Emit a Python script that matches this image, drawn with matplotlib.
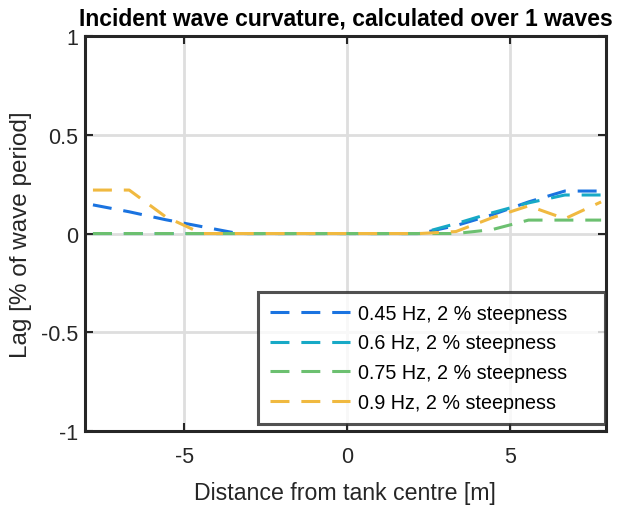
import matplotlib
matplotlib.use('Agg')
import matplotlib.pyplot as plt
import numpy as np

plt.rcParams['font.family'] = ['Liberation Sans', 'DejaVu Sans']
plt.rcParams['axes.unicode_minus'] = False

# sensor positions along the tank [m]
x = np.linspace(-7.8, 7.8, 15)

lag_045 = [0.145, 0.11, 0.07, 0.035, 0.0, 0.0, 0.0, 0.0, 0.0, 0.0, 0.04, 0.095, 0.16, 0.215, 0.215]
lag_06 = [0.0, 0.0, 0.0, 0.0, 0.0, 0.0, 0.0, 0.0, 0.0, 0.0, 0.05, 0.105, 0.155, 0.195, 0.195]
lag_075 = [0.0, 0.0, 0.0, 0.0, 0.0, 0.0, 0.0, 0.0, 0.0, 0.0, 0.0, 0.02, 0.068, 0.068, 0.068]
lag_09 = [0.22, 0.22, 0.085, 0.0, 0.0, 0.0, 0.0, 0.0, 0.0, 0.0, 0.01, 0.08, 0.14, 0.075, 0.16]

series = [lag_045, lag_06, lag_075, lag_09]
labels = ["0.45 Hz, 2 % steepness", "0.6 Hz, 2 % steepness",
          "0.75 Hz, 2 % steepness", "0.9 Hz, 2 % steepness"]
colors = ['#1a73e0', '#17a9c6', '#6cc070', '#f0b940']

fig = plt.figure(figsize=(6.19, 5.06), dpi=100)
ax = fig.add_axes([0.137, 0.146, 0.842, 0.781])

for y, lab, c in zip(series, labels, colors):
    ax.plot(x, y, color=c, lw=2.2, dashes=(6.2, 3.9), label=lab)

ax.set_xlim(-8.05, 7.95)
ax.set_ylim(-1, 1)
ax.set_xticks([-5, 0, 5])
ax.set_yticks([-1, -0.5, 0, 0.5, 1])
ax.set_yticklabels(['-1', '-0.5', '0', '0.5', '1'])
ax.grid(True, color='#dedede', lw=2)
ax.set_axisbelow(True)
for s in ax.spines.values():
    s.set_linewidth(2.2)
    s.set_color('#262626')
ax.tick_params(direction='in', length=6, width=1.5, top=True, right=True,
               labelsize=15.5, colors='#262626')
ax.tick_params(axis='x', pad=11)
ax.tick_params(axis='y', pad=5)

ax.set_xlabel("Distance from tank centre [m]", fontsize=16.7, color='#262626',
              labelpad=10)
ax.set_ylabel("Lag [% of wave period]", fontsize=17.5, color='#262626',
              labelpad=6)
ax.set_title("Incident wave curvature, calculated over 1 waves",
             fontsize=16.5, fontweight='bold', pad=8)

leg = ax.legend(loc='lower left', bbox_to_anchor=(0.332, 0.018, 0.666, 0.341),
                mode='expand', fontsize=14.2, frameon=True, fancybox=False,
                handlelength=4.06, handletextpad=0.4, borderaxespad=0,
                labelspacing=0.54, borderpad=0.62)
leg.get_frame().set_edgecolor('#262626')
leg.get_frame().set_linewidth(2.2)

fig.savefig('out.png', dpi=100)
